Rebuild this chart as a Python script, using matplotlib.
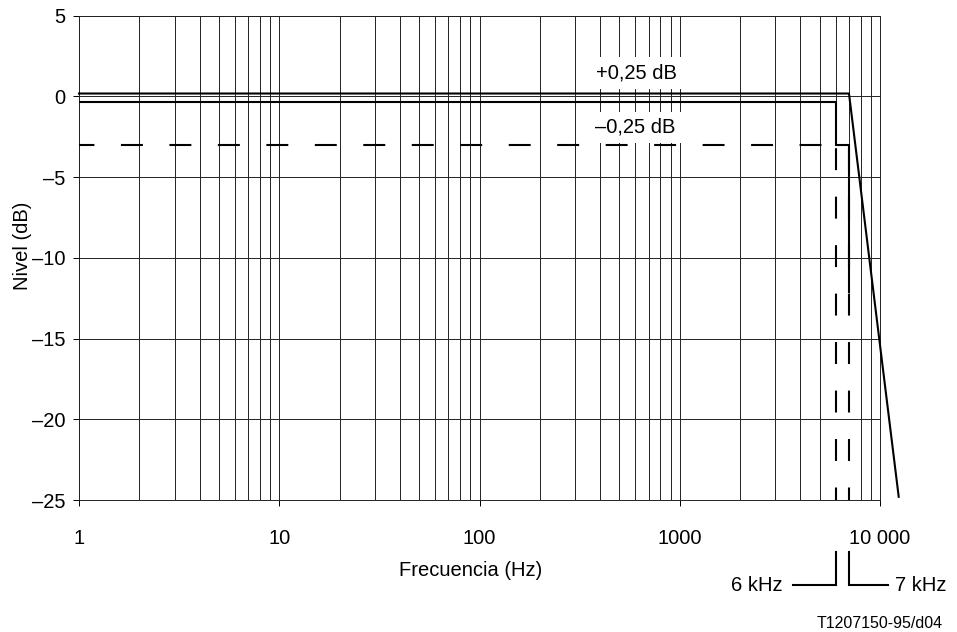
import matplotlib
matplotlib.use('Agg')
import matplotlib.pyplot as plt
import matplotlib.transforms as mtransforms
from matplotlib.ticker import LogLocator, FixedLocator, NullFormatter

plt.rcParams['font.family'] = ['Liberation Sans', 'DejaVu Sans']
plt.rcParams['font.size'] = 14.5
plt.rcParams['lines.scale_dashes'] = False

# Upper tolerance line (+0,25 dB) with roll-off after 7 kHz
freq_upper = [1, 7000, 12400]
lvl_upper = [0.18, 0.18, -24.8]

# Lower tolerance line (-0,25 dB), step down at 6 kHz to -3 dB, then 7 kHz
freq_lower = [1, 6000, 6000, 7000, 7000]
lvl_lower = [-0.34, -0.34, -3, -3, -12.1]

# -3 dB dashed reference line
freq_3db = [1, 6000]
lvl_3db = [-3, -3]

# dashed verticals at 6 kHz and 7 kHz
freq_v6 = [6000, 6000]
freq_v7 = [7000, 7000]
lvl_v = [-3, -25]

x_ticks = [1, 10, 100, 1000, 10000]
x_labels = ['1', '10', '100', '1000', '10 000']
y_ticks = [5, 0, -5, -10, -15, -20, -25]
y_labels = ['5', '0', '–5', '–10', '–15', '–20', '–25']

fig = plt.figure(figsize=(9.57, 6.32), dpi=100)
ax = fig.add_axes([79 / 957, 1 - 500 / 632, 801 / 957, 484.3 / 632])

ax.set_xscale('log')
ax.set_xlim(1, 10000)
ax.set_ylim(-25, 5)

ax.xaxis.set_major_locator(FixedLocator(x_ticks))
ax.set_xticklabels(x_labels)
ax.xaxis.set_minor_locator(LogLocator(base=10, subs=range(2, 10)))
ax.xaxis.set_minor_formatter(NullFormatter())
ax.set_yticks(y_ticks)
ax.set_yticklabels(y_labels)

ax.tick_params(axis='both', which='major', direction='out', length=4, width=0.7, color='black')
ax.tick_params(axis='x', which='major', pad=17)
ax.tick_params(axis='y', which='major', pad=6)
ax.tick_params(axis='x', which='minor', length=0)

gc = '#222222'
ax.grid(True, which='both', axis='x', color=gc, linewidth=0.7)
ax.set_axisbelow(True)
# horizontal grid drawn as lines so it stays above the white underlay
for yv in y_ticks:
    ax.axhline(yv, color=gc, lw=0.7, zorder=3.5)
for s in ax.spines.values():
    s.set_linewidth(0.7)
    s.set_color(gc)

lw = 1.5
dash = (15.8, 19.1)
ax.plot(freq_upper, lvl_upper, color='black', lw=lw, clip_on=False, solid_joinstyle='miter', zorder=5)
ax.plot(freq_lower, lvl_lower, color='black', lw=lw, solid_joinstyle='miter', zorder=5)
ax.plot(freq_3db, lvl_3db, color='black', lw=lw, linestyle=(4.7, dash), zorder=4)
# white underlay so the gaps of the vertical dashes hide the grid
for fv in (freq_v6, freq_v7):
    ax.plot(fv, lvl_v, color='white', lw=2.5, solid_capstyle='butt', zorder=3)
    ax.plot(fv, lvl_v, color='black', lw=lw, linestyle=(32.6, dash), zorder=4)

box = dict(facecolor='white', edgecolor='none', boxstyle='square,pad=0.3')
ax.text(610, 1.45, '+0,25 dB', ha='center', va='center', bbox=box, zorder=3.6)
ax.text(600, -1.9, '–0,25 dB', ha='center', va='center', bbox=box, zorder=3.6)

ax.set_xlabel('Frecuencia (Hz)')
ax.xaxis.label.set_va('center')
ax.xaxis.set_label_coords((470.7 - 79) / 801, (500 - 570) / 484.3)
ax.set_ylabel('Nivel (dB)')
ax.yaxis.label.set_va('center')
ax.yaxis.label.set_ha('center')
ax.yaxis.set_label_coords((22 - 79) / 801, (500 - 246) / 484.3)

# bracket marks under the axis for 6 kHz and 7 kHz
trans = mtransforms.blended_transform_factory(ax.transData, ax.transAxes)
ax.plot([3680, 6000, 6000], [-0.1755, -0.1755, -0.1074], color='black', lw=lw,
        transform=trans, clip_on=False, solid_joinstyle='miter')
ax.plot([7000, 7000, 10960], [-0.1074, -0.1755, -0.1755], color='black', lw=lw,
        transform=trans, clip_on=False, solid_joinstyle='miter')
ax.text(3280, -0.1775, '6 kHz', ha='right', va='center', transform=trans)
ax.text(11880, -0.1775, '7 kHz', ha='left', va='center', transform=trans)
ax.text(10000, -0.254, 'T1207150-95/d04', ha='center', va='center', fontsize=11.5, transform=trans)

fig.savefig('out.png', dpi=100)
